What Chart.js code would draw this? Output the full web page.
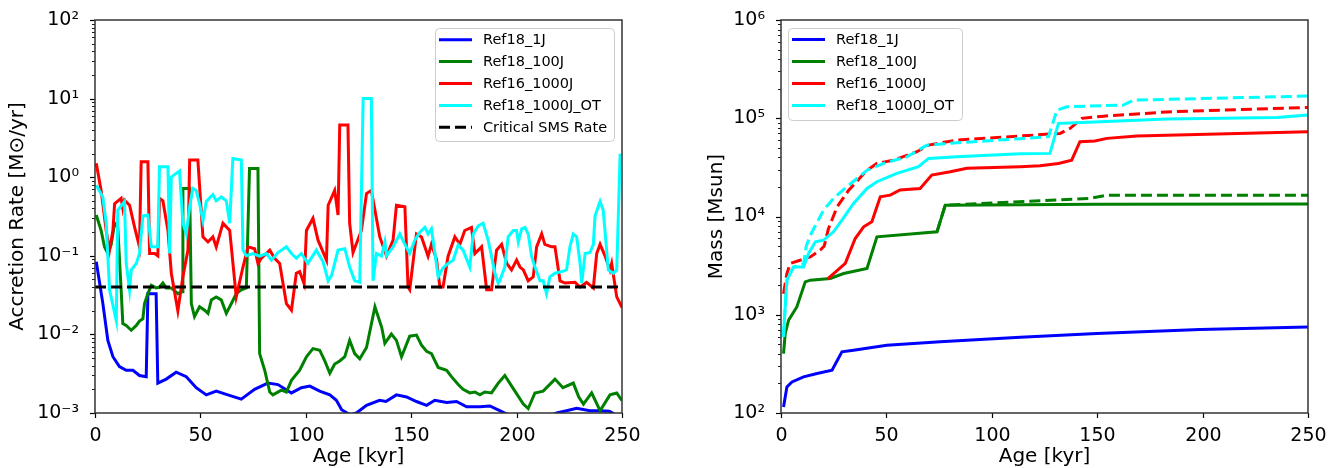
<!DOCTYPE html>
<html>
<head>
<meta charset="utf-8">
<script src="https://cdn.jsdelivr.net/npm/chart.js@4/dist/chart.umd.min.js"></script>
<style>
  html, body { margin: 0; padding: 0; background: #fff; }
  #wrap { position: relative; width: 1332px; height: 468px; }
  canvas { position: absolute; top: 0; }
  #rateChart { left: 0; }
  #massChart { left: 666px; }
</style>
</head>
<body>
<div id="wrap">
  <canvas id="rateChart" width="666" height="468"></canvas>
  <canvas id="massChart" width="666" height="468"></canvas>
</div>
<script>
// [age kyr, accretion rate Msun/yr]
var rate1J = [[0.6,0.084],[3.7,0.025],[6.1,0.0084],[8.5,0.0052],[11.6,0.0039],[14.8,0.0035],[18,0.0035],[21.1,0.003],[24.3,0.0029],[25.1,0.033],[29,0.033],[29.8,0.0024],[33.8,0.0027],[38.5,0.0033],[43.3,0.0029],[48,0.0021],[52.8,0.0017],[57.5,0.0019],[63,0.0017],[69.4,0.0015],[75.7,0.002],[82,0.0024],[86.8,0.0023],[93.2,0.0018],[97.9,0.0021],[101.9,0.0022],[106.6,0.0019],[111.4,0.0017],[114.5,0.00145],[117,0.0011],[121,0.00095],[124,0.001],[128.8,0.00125],[135,0.00145],[138,0.0014],[143,0.0017],[147.8,0.0016],[152.5,0.0014],[157.3,0.00125],[161.2,0.00145],[166.8,0.00136],[171.5,0.0014],[176.3,0.0012],[182.6,0.0012],[187.3,0.00123],[192,0.00107],[194.4,0.001],[198,0.0009],[215,0.0009],[219,0.001],[223.7,0.00107],[228.5,0.00115],[234.8,0.00107],[239.5,0.00107],[244,0.00105],[247,0.00095],[250,0.0009]];

var rate100J = [[0.6,0.33],[2.9,0.21],[4.5,0.13],[6.1,0.107],[7.7,0.14],[9.3,0.26],[10.8,0.23],[12.4,0.037],[13.2,0.0137],[14.8,0.013],[17.2,0.0113],[19.6,0.013],[21.1,0.0148],[22.7,0.0158],[23.5,0.0247],[25.1,0.033],[26.7,0.042],[29,0.039],[30.6,0.04],[32.2,0.045],[33.8,0.039],[36.2,0.039],[39.3,0.033],[41.3,0.035],[41.7,0.72],[44.9,0.72],[45.7,0.0247],[47.2,0.0169],[49.6,0.0225],[52,0.0203],[53.6,0.0185],[55.2,0.0275],[57.5,0.03],[59.9,0.0275],[62.3,0.0185],[64.7,0.0247],[67,0.033],[69.4,0.037],[71.8,0.039],[73.3,1.29],[77.3,1.29],[78.1,0.0057],[80.5,0.0035],[82.9,0.00185],[84.4,0.0017],[88.4,0.00195],[90.8,0.00185],[93.2,0.0026],[97.1,0.0035],[100.3,0.0052],[103.4,0.0066],[106.6,0.0063],[109,0.0046],[111.4,0.0032],[113.7,0.0042],[116.1,0.0046],[118.5,0.0052],[120.8,0.0084],[123.2,0.0057],[125.6,0.0049],[128.8,0.0068],[132.8,0.0225],[136,0.0123],[137.5,0.0077],[140.6,0.0101],[143,0.0084],[145.4,0.0052],[149.3,0.0095],[152.5,0.0098],[154.9,0.0073],[157.3,0.0061],[159.6,0.0057],[162.8,0.0038],[166.8,0.0035],[169.1,0.0029],[172.3,0.0023],[174.6,0.002],[177.8,0.0018],[180.2,0.00185],[182.6,0.0017],[184.9,0.00185],[188.1,0.0018],[191.3,0.0024],[194.4,0.003],[199.2,0.0019],[203.2,0.0013],[205.5,0.00114],[208.7,0.0018],[212.6,0.0019],[218.2,0.0027],[222,0.0021],[226.9,0.0024],[229.5,0.0016],[231.7,0.0013],[235.6,0.0018],[239.6,0.00107],[244.3,0.0017],[247.5,0.0018],[249.9,0.00145]];

var rate1000J = [[0.6,1.5],[2.9,0.68],[5.3,0.21],[6.9,0.118],[8.5,0.21],[9.3,0.46],[12.4,0.54],[13.2,0.4],[14,0.51],[16.4,0.44],[18.8,0.23],[21.1,0.13],[21.9,1.57],[25.1,1.57],[25.9,0.107],[28.3,0.107],[29.8,0.1],[30.6,0.54],[32.2,0.5],[34.6,0.21],[36.2,0.06],[39.3,0.02],[41.7,0.054],[44.1,0.118],[44.9,1.65],[48.8,1.65],[51.2,0.174],[53.6,0.15],[55.9,0.174],[57.5,0.13],[60.7,0.26],[63.9,0.21],[67,0.03],[70.2,0.072],[72.6,0.13],[75.7,0.123],[77.3,0.08],[78.9,0.093],[82.9,0.118],[85.2,0.093],[87.6,0.08],[90.8,0.0247],[93.2,0.0203],[95.5,0.06],[97.1,0.063],[99.2,0.044],[100.3,0.21],[103.4,0.3],[105.8,0.158],[109.8,0.088],[110.6,0.44],[113.7,0.68],[115.3,0.33],[116.1,4.6],[120,4.6],[120.8,0.26],[122.4,0.11],[126.4,0.21],[128.8,0.62],[131.1,0.68],[135.1,0.174],[138.3,0.099],[141.4,0.158],[143,0.44],[147,0.42],[148.5,0.04],[149.3,0.037],[152.5,0.19],[154.9,0.174],[158,0.099],[159.6,0.14],[162,0.09],[163.6,0.04],[165.1,0.04],[167.5,0.099],[170.7,0.174],[173.1,0.14],[175.4,0.21],[178.6,0.23],[180.2,0.107],[183.4,0.13],[185.8,0.037],[188.1,0.037],[190.5,0.118],[192.9,0.14],[195.3,0.08],[197.6,0.066],[200,0.088],[201.6,0.072],[203.2,0.066],[205.5,0.048],[207.9,0.054],[209.5,0.13],[211.9,0.19],[213.4,0.14],[216.6,0.13],[218.2,0.13],[220.6,0.048],[223,0.045],[227.7,0.046],[230.1,0.04],[233.2,0.046],[236.4,0.039],[238,0.107],[239.6,0.14],[242,0.099],[244.3,0.066],[245.1,0.08],[247.5,0.03],[250,0.022]];

var rate1000J_OT = [[0.6,0.79],[3.7,0.56],[5.3,0.26],[6.9,0.037],[10.1,0.015],[10.8,0.38],[14,0.49],[14.8,0.08],[16.4,0.037],[17.2,0.066],[19.6,0.08],[21.1,0.107],[22.7,0.32],[25.1,0.33],[26.7,0.13],[29.8,0.13],[30.6,1.36],[34.6,1.36],[35.4,0.107],[36.2,1.0],[38.5,1.12],[40.1,1.2],[41.7,0.26],[43.3,0.19],[44.9,0.42],[46.4,0.72],[48,0.68],[49.6,0.46],[51.2,0.28],[52.8,0.49],[55.9,0.6],[57.5,0.5],[59.9,0.56],[62.3,0.5],[63.9,0.26],[65.4,1.73],[69.4,1.65],[70.2,0.118],[71.8,0.1],[74.9,0.107],[78.1,0.099],[81.3,0.107],[83.7,0.088],[86.8,0.11],[90.8,0.13],[93.2,0.107],[95.5,0.093],[97.9,0.107],[101,0.08],[105,0.118],[108.2,0.084],[110.6,0.048],[112.2,0.056],[115.3,0.118],[118.5,0.123],[120.8,0.072],[123.2,0.048],[125.6,0.046],[127.2,10],[131.1,10],[131.9,0.048],[133.5,0.107],[135.9,0.099],[137.5,0.15],[138.3,0.1],[141.4,0.13],[144.6,0.19],[147,0.14],[149.3,0.107],[151.7,0.158],[154.1,0.2],[156.5,0.23],[158,0.19],[159.6,0.22],[161.2,0.11],[162.8,0.054],[165.1,0.07],[167.5,0.08],[169.9,0.088],[172.3,0.138],[174.6,0.118],[177.8,0.072],[179.4,0.19],[181.8,0.24],[184.1,0.26],[186.5,0.158],[188.1,0.099],[189.7,0.06],[191.3,0.045],[192,0.048],[194.4,0.072],[196,0.174],[198.4,0.21],[200,0.21],[200.8,0.15],[202.4,0.22],[204,0.23],[205.5,0.19],[207.1,0.099],[208.7,0.072],[211.1,0.048],[212.6,0.048],[214.2,0.033],[215.8,0.054],[218.2,0.06],[221.4,0.063],[223.7,0.066],[225.3,0.13],[226.9,0.19],[228.5,0.174],[230.1,0.08],[230.9,0.045],[232.5,0.107],[234.8,0.11],[236.4,0.14],[237.2,0.32],[239.6,0.49],[241.1,0.38],[243.5,0.066],[245.9,0.06],[247.5,0.066],[249.1,1.9],[250,1.9]];

var criticalRate = [[0, 0.04], [250, 0.04]];

// [age kyr, mass Msun]; solid = sink mass, dashed = total
var mass1J = [[1.2,115],[2.8,184],[5.2,207],[10.7,233],[17.1,252],[24.2,272],[28.9,419],[34.4,436],[50.2,490],[75.5,530],[113.5,590],[149.8,644],[198.8,708],[250,750]];
var mass100J = [[1.2,403],[2,644],[3.6,880],[7.5,1200],[11.5,2160],[13.9,2250],[23.4,2340],[29.7,2630],[40.8,2960],[45.5,6210],[74,6980],[77.9,13000],[150,13300],[250,13400]];
var mass100J_tot = [[74,6980],[77.9,13000],[100,13700],[146.6,15270],[154.6,16500],[250,16500]];
var mass1000J = [[22,2300],[30.5,3330],[35.2,5970],[39.2,7850],[43.1,8830],[47.1,15850],[51.8,16500],[56.5,18600],[66,19300],[71.5,26400],[80.3,28500],[88.2,30900],[113.5,32100],[122.9,32800],[131.6,34700],[137.9,37500],[141.8,57700],[148.9,58600],[154.6,62400],[168.8,65800],[250,73000]];
var mass1000J_tot = [[1.2,1640],[2.8,2630],[4.4,3330],[13.9,3880],[18.6,4540],[20.5,5000],[22.5,7500],[26.6,12500],[32.1,18500],[40.8,29600],[45.5,34700],[53.4,37500],[64.5,45600],[70,53300],[83.4,60000],[113.5,66000],[132.4,70100],[137.2,78900],[142.7,99800],[153,105000],[183,116000],[250,129000]];
var mass1000J_OT = [[1.2,594],[1.6,880],[2.8,2250],[6,3070],[10.7,3070],[13.1,4210],[16.3,5520],[20.2,5740],[24.9,6980],[28.9,9180],[34.4,13580],[40.8,19300],[45.5,22600],[55,27500],[65.2,32100],[70,39000],[83.4,40600],[113.5,43500],[127.6,43900],[131.6,88700],[137.2,89700],[183,98200],[235.2,102000],[250,108000]];
var mass1000J_OT_tot = [[1.2,594],[1.6,880],[2.8,2250],[6,3070],[10.7,3300],[12,5000],[13.9,6460],[20.2,11600],[24.9,15300],[31.2,20000],[40.8,29600],[48.7,34700],[59.8,40600],[69.2,53300],[83.4,56200],[113.5,62000],[126.9,64900],[130.9,121000],[135.6,131000],[162.4,136000],[167.2,153000],[250,168000]];

var ageTicks = [0, 50, 100, 150, 200, 250];

var BLUE = '#0000ff', GREEN = '#008000', RED = '#ff0000', CYAN = '#00ffff';
var DASH = [11, 5];
var FONT = 'DejaVu Sans';

Chart.defaults.font.family = FONT;
Chart.defaults.color = '#000';

function pts(arr) {
    return arr.map(function(p) { return { x: p[0], y: p[1] }; });
}

function line(label, data, color, order, dashed) {
    return {
        label: label,
        data: pts(data),
        borderColor: color,
        backgroundColor: color,
        borderWidth: 3,
        borderDash: dashed ? DASH : [],
        pointRadius: 0,
        tension: 0,
        fill: false,
        clip: 0,
        order: order
    };
}

function isPow10(v) {
    var e = Math.log10(v);
    return Math.abs(e - Math.round(e)) < 1e-9;
}

var SUP = { '-': '\u207b', '0': '\u2070', '1': '\u00b9', '2': '\u00b2', '3': '\u00b3', '4': '\u2074', '5': '\u2075', '6': '\u2076', '7': '\u2077', '8': '\u2078', '9': '\u2079' };
function pow10Label(v) {
    var e = String(Math.round(Math.log10(v)));
    return '10' + e.split('').map(function(c) { return SUP[c]; }).join('');
}

function logTicks(lo, hi) {
    var ticks = [];
    for (var e = lo; e <= hi; e++) {
        for (var m = 1; m <= 9; m++) {
            if (e === hi && m > 1) break;
            ticks.push({ value: m * Math.pow(10, e), major: m === 1 });
        }
    }
    return ticks;
}

// axes frame, outward tick marks and the age tick labels
var frameTicks = {
    id: 'frameTicks',
    afterDraw: function(chart) {
        var ctx = chart.ctx, a = chart.chartArea;
        ctx.save();
        ctx.strokeStyle = '#000';
        ctx.fillStyle = '#000';
        ctx.font = '19px ' + FONT;
        ctx.textAlign = 'center';
        ctx.textBaseline = 'alphabetic';
        var xs = chart.scales.x, ys = chart.scales.y;
        xs.ticks.forEach(function(t) {
            var px = Math.round(xs.getPixelForValue(t.value)) + 0.5;
            ctx.lineWidth = 1.2;
            ctx.beginPath();
            ctx.moveTo(px, a.bottom);
            ctx.lineTo(px, a.bottom + 5);
            ctx.stroke();
            ctx.fillText(String(t.value), px, a.bottom + 28);
        });
        ys.ticks.forEach(function(t) {
            var py = Math.round(ys.getPixelForValue(t.value)) + 0.5;
            var major = isPow10(t.value);
            ctx.lineWidth = major ? 1.2 : 0.9;
            ctx.beginPath();
            ctx.moveTo(a.left, py);
            ctx.lineTo(a.left - (major ? 5 : 3), py);
            ctx.stroke();
        });
        ctx.strokeStyle = '#333';
        ctx.lineWidth = 1.5;
        ctx.strokeRect(a.left, a.top, a.right - a.left, a.bottom - a.top);
        ctx.restore();
    }
};

// legend box inside the axes
var boxLegend = {
    id: 'boxLegend',
    afterDraw: function(chart, args, o) {
        var ctx = chart.ctx;
        var items = chart.data.datasets.filter(function(d) { return d.label; });
        ctx.save();
        ctx.beginPath();
        ctx.roundRect(o.x + 0.5, o.y + 0.5, o.w, o.h, 4);
        ctx.fillStyle = 'rgba(255,255,255,0.8)';
        ctx.fill();
        ctx.strokeStyle = '#cccccc';
        ctx.lineWidth = 1;
        ctx.stroke();
        ctx.font = '14.5px ' + FONT;
        ctx.textBaseline = 'middle';
        items.forEach(function(d, i) {
            var y = o.rowY + i * o.rowGap;
            ctx.strokeStyle = d.borderColor;
            ctx.lineWidth = d.borderWidth;
            ctx.setLineDash(d.borderDash || []);
            ctx.beginPath();
            ctx.moveTo(o.lineX0, y);
            ctx.lineTo(o.lineX1, y);
            ctx.stroke();
            ctx.setLineDash([]);
            ctx.fillStyle = '#000';
            ctx.fillText(d.label, o.textX, y + 1);
        });
        ctx.restore();
    }
};

function xAxis() {
    return {
        type: 'linear',
        min: 0,
        max: 250,
        afterBuildTicks: function(s) { s.ticks = ageTicks.map(function(v) { return { value: v }; }); },
        afterFit: function(s) { s.height = 55; },
        grid: { display: false },
        border: { display: false },
        ticks: { display: false },
        title: { display: true, text: 'Age [kyr]', color: '#000', font: { size: 20 }, padding: { top: 0, bottom: -1 } }
    };
}

function yAxis(lo, hi, width, title, titlePad) {
    return {
        type: 'logarithmic',
        min: Math.pow(10, lo),
        max: Math.pow(10, hi),
        afterBuildTicks: function(s) { s.ticks = logTicks(lo, hi); },
        afterFit: function(s) { s.width = width; },
        grid: { display: false },
        border: { display: false },
        ticks: {
            padding: 8,
            autoSkip: false,
            color: '#000',
            font: { size: 19 },
            callback: function(v) { return isPow10(v) ? pow10Label(v) : ''; }
        },
        title: { display: true, text: title, color: '#000', font: { size: 20 }, padding: { top: titlePad, bottom: 0 } }
    };
}

new Chart(document.getElementById('rateChart'), {
    type: 'line',
    data: {
        datasets: [
            line('Ref18_1J', rate1J, BLUE, 5),
            line('Ref18_100J', rate100J, GREEN, 4),
            line('Ref16_1000J', rate1000J, RED, 3),
            line('Ref18_1000J_OT', rate1000J_OT, CYAN, 2),
            line('Critical SMS Rate', criticalRate, '#000', 1, true)
        ]
    },
    options: {
        responsive: false,
        animation: false,
        events: [],
        layout: { padding: { left: 0, right: 44, top: 20, bottom: 0 } },
        scales: {
            x: xAxis(),
            y: yAxis(-3, 2, 95, 'Accretion Rate [M\u2299/yr]', 6)
        },
        plugins: {
            legend: { display: false },
            tooltip: { enabled: false },
            boxLegend: { x: 435, y: 28, w: 179, h: 113, lineX0: 439, lineX1: 472, textX: 483, rowY: 39.7, rowGap: 21.9 }
        }
    },
    plugins: [frameTicks, boxLegend]
});

new Chart(document.getElementById('massChart'), {
    type: 'line',
    data: {
        datasets: [
            line('Ref18_1J', mass1J, BLUE, 7),
            line('Ref18_100J', mass100J, GREEN, 6),
            line('Ref16_1000J', mass1000J, RED, 4),
            line('Ref18_1000J_OT', mass1000J_OT, CYAN, 2),
            line('', mass100J_tot, GREEN, 5, true),
            line('', mass1000J_tot, RED, 3, true),
            line('', mass1000J_OT_tot, CYAN, 1, true)
        ]
    },
    options: {
        responsive: false,
        animation: false,
        events: [],
        layout: { padding: { left: 0, right: 24, top: 20, bottom: 0 } },
        scales: {
            x: xAxis(),
            y: yAxis(2, 6, 115, 'Mass [Msun]', 39)
        },
        plugins: {
            legend: { display: false },
            tooltip: { enabled: false },
            boxLegend: { x: 122, y: 28, w: 174, h: 92, lineX0: 126, lineX1: 159, textX: 170, rowY: 39.5, rowGap: 22 }
        }
    },
    plugins: [frameTicks, boxLegend]
});
</script>
</body>
</html>
